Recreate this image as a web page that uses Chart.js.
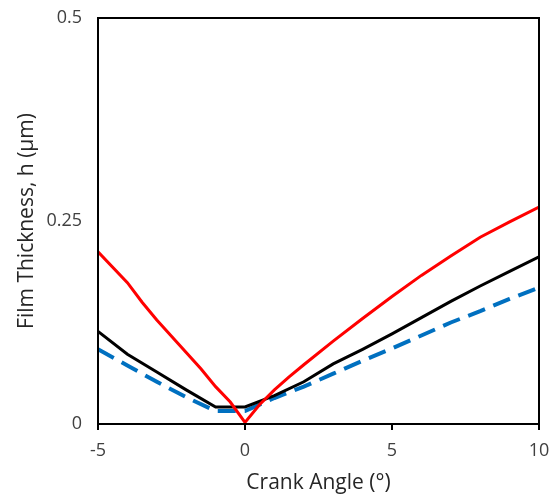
<!DOCTYPE html>
<html>
<head>
<meta charset="utf-8">
<script src="https://cdn.jsdelivr.net/npm/chart.js@4"></script>
<style>
  body { margin: 0; background: #fff; }
</style>
</head>
<body>
<canvas id="myChart" width="559" height="503"></canvas>
<script>
// crank angle (deg) and film thickness (um)
const redAngle = [-5, -4, -3.5, -3, -2.5, -2, -1.5, -1, -0.5, 0, 0.5, 1, 1.5, 2, 3, 4, 5, 6, 7, 8, 9, 10]
const redH = [0.212, 0.174, 0.150, 0.128, 0.108, 0.088, 0.068, 0.046, 0.027, 0.002, 0.024, 0.042, 0.058, 0.073, 0.102, 0.130, 0.157, 0.183, 0.207, 0.230, 0.249, 0.267]

const blackAngle = [-5, -4, -3, -2, -1, 0, 1, 2, 3, 4, 5, 6, 7, 8, 9, 10]
const blackH = [0.114, 0.086, 0.064, 0.042, 0.021, 0.021, 0.035, 0.052, 0.074, 0.092, 0.111, 0.131, 0.151, 0.170, 0.188, 0.206]

const blueAngle = [-5, -4, -3, -2, -1, 0, 1, 2, 3, 4, 5, 6, 7, 8, 9, 10]
const blueH = [0.092, 0.072, 0.052, 0.033, 0.016, 0.016, 0.032, 0.046, 0.062, 0.078, 0.093, 0.109, 0.125, 0.139, 0.154, 0.168]

const xTicks = [-5, 0, 5, 10]
const yTicks = [0, 0.25, 0.5]

const toPoints = (xs, ys) => xs.map((x, i) => ({ x: x, y: ys[i] }))

const frame = {
    id: 'frame',
    afterDatasetsDraw(chart) {
        const a = chart.chartArea
        const c = chart.ctx
        c.save()
        c.strokeStyle = '#000'
        c.lineWidth = 2
        c.strokeRect(a.left, a.top, a.right - a.left, a.bottom - a.top)
        c.restore()
    }
}

const ctx = document.getElementById('myChart').getContext('2d')

const myChart = new Chart(ctx, {
    type: 'scatter',
    data: {
        datasets: [
            {
                data: toPoints(redAngle, redH),
                borderColor: '#ff0000',
                borderWidth: 3,
                showLine: true,
                pointRadius: 0
            },
            {
                data: toPoints(blackAngle, blackH),
                borderColor: '#000000',
                borderWidth: 3,
                showLine: true,
                pointRadius: 0
            },
            {
                data: toPoints(blueAngle, blueH),
                borderColor: '#0070c0',
                borderWidth: 4,
                borderDash: [18, 9],
                showLine: true,
                pointRadius: 0
            }
        ]
    },
    options: {
        responsive: false,
        animation: false,
        layout: { padding: { left: 0, top: 18, right: 20, bottom: 0 } },
        plugins: {
            legend: { display: false },
            tooltip: { enabled: false }
        },
        scales: {
            x: {
                type: 'linear',
                min: -5,
                max: 10,
                afterBuildTicks: s => { s.ticks = xTicks.map(v => ({ value: v })) },
                afterFit: s => {
                    s.height = 79
                    s.paddingLeft = 0
                    s.paddingRight = 0
                },
                grid: {
                    drawOnChartArea: false,
                    color: '#000',
                    lineWidth: 2,
                    tickLength: 6
                },
                border: { color: '#000', width: 2 },
                ticks: {
                    color: '#404040',
                    padding: 10,
                    font: { family: 'Open Sans', size: 18 }
                },
                title: {
                    display: true,
                    text: 'Crank Angle (°)',
                    color: '#262626',
                    padding: { top: 0, bottom: 7 },
                    font: { family: 'Open Sans', size: 21 }
                }
            },
            y: {
                type: 'linear',
                min: 0,
                max: 0.5,
                afterBuildTicks: s => { s.ticks = yTicks.map(v => ({ value: v })) },
                afterFit: s => {
                    s.width = 98
                    s.paddingTop = 0
                    s.paddingBottom = 0
                },
                grid: { display: false, drawTicks: false },
                border: { color: '#000', width: 2 },
                ticks: {
                    color: '#404040',
                    padding: 16,
                    font: { family: 'Open Sans', size: 18 },
                    callback: v => String(v)
                },
                title: {
                    display: true,
                    text: 'Film Thickness, h (µm)',
                    color: '#262626',
                    padding: { top: 14, bottom: 0 },
                    font: { family: 'Open Sans', size: 21 }
                }
            }
        }
    },
    plugins: [frame]
})
</script>
</body>
</html>
